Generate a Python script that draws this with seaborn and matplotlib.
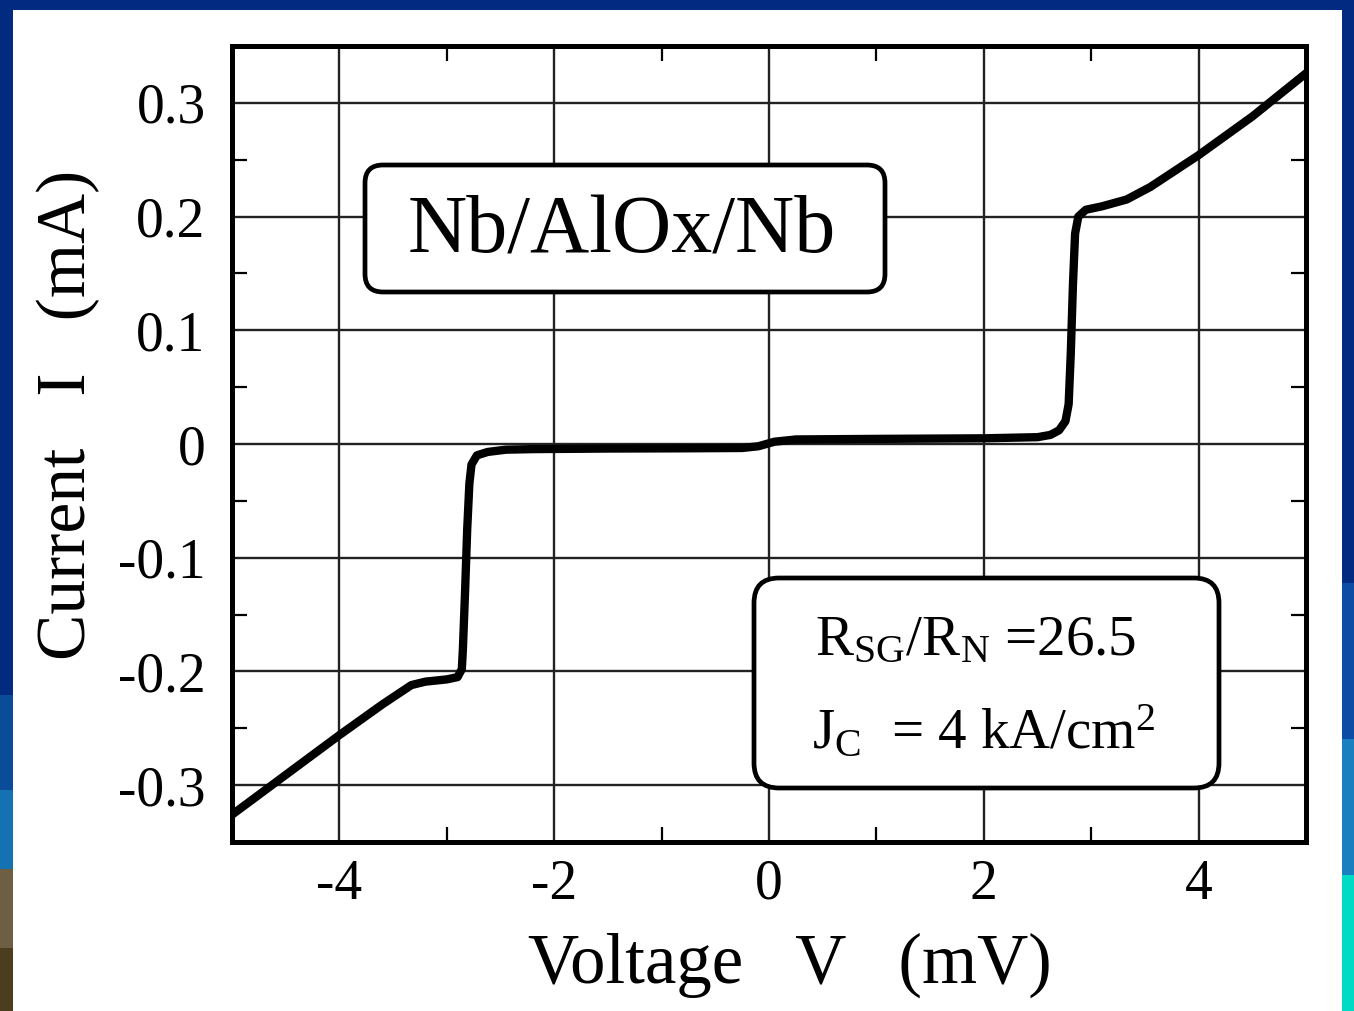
import numpy as np
import pandas as pd
import matplotlib
matplotlib.use("Agg")
import matplotlib.pyplot as plt
from matplotlib.patches import FancyBboxPatch, Rectangle
from matplotlib.ticker import FixedLocator, FixedFormatter
import seaborn as sns

# ---------------- data ----------------
voltage_mV = [-5.00, -4.60, -4.00, -3.60, -3.33, -3.20, -3.00, -2.90, -2.86, -2.85,
              -2.83, -2.81, -2.79, -2.77, -2.72, -2.62, -2.45, -2.20, -1.50, -0.80,
              -0.25, -0.10, 0.05, 0.25, 1.00, 2.00, 2.50, 2.62, 2.70, 2.76,
              2.79, 2.81, 2.83, 2.85, 2.88, 2.95, 3.10, 3.33, 3.55, 4.00,
              4.50, 5.00]
current_mA = [-0.326, -0.298, -0.256, -0.229, -0.212, -0.209, -0.207, -0.205, -0.198, -0.180,
              -0.130, -0.075, -0.035, -0.018, -0.010, -0.007, -0.005, -0.0045, -0.004, -0.0038,
              -0.0035, -0.002, 0.002, 0.004, 0.0045, 0.005, 0.006, 0.008, 0.012, 0.020,
              0.035, 0.080, 0.140, 0.185, 0.200, 0.206, 0.209, 0.215, 0.226, 0.254,
              0.288, 0.326]

xticks_major = [-4, -2, 0, 2, 4]
xtick_labels = ["-4", "-2", "0", "2", "4"]
xticks_minor = [-5, -3, -1, 1, 3, 5]
yticks_major = [-0.3, -0.2, -0.1, 0.0, 0.1, 0.2, 0.3]
ytick_labels = ["-0.3", "-0.2", "-0.1", "0", "0.1", "0.2", "0.3"]
yticks_minor = [-0.25, -0.15, -0.05, 0.05, 0.15, 0.25]

title_text = "Nb/AlOx/Nb"
info_line1 = r"R$_{\mathrm{SG}}$/R$_{\mathrm{N}}$ =26.5"
info_line2 = r"J$_{\mathrm{C}}$  = 4 kA/cm$^{2}$"
xlabel_text = "Voltage   V   (mV)"
ylabel_text = "Current   I   (mA)"

df = pd.DataFrame({"V": voltage_mV, "I": current_mA})

# ---------------- style ----------------
sns.set_theme(style="white")
plt.rcParams["font.family"] = ["Liberation Serif", "DejaVu Serif"]
plt.rcParams["mathtext.fontset"] = "custom"
plt.rcParams["mathtext.rm"] = "Liberation Serif"
plt.rcParams["mathtext.it"] = "Liberation Serif:italic"
plt.rcParams["axes.unicode_minus"] = False
plt.rcParams["text.color"] = "black"
plt.rcParams["axes.labelcolor"] = "black"
plt.rcParams["xtick.color"] = "black"
plt.rcParams["ytick.color"] = "black"

W, H = 1354, 1011
fig = plt.figure(figsize=(W / 100, H / 100), dpi=100)
fig.patch.set_facecolor("#022a80")

# white slide area (drawn beneath the axes)
fig.patches.append(Rectangle((13 / W, 0), (1342 - 13) / W, (H - 10) / H,
                             transform=fig.transFigure, facecolor="white",
                             edgecolor="none", zorder=-5))
# side strips (background of slide)
left_strip = fig.add_axes([0, 0, 13 / W, 1])
lg = np.array([[0.008, 0.165, 0.502]] * 44 + [[0.04, 0.30, 0.60]] * 6 +
              [[0.08, 0.45, 0.70]] * 5 + [[0.43, 0.37, 0.27]] * 5 + [[0.30, 0.24, 0.12]] * 4)
left_strip.imshow(lg[:, None, :], aspect="auto", extent=[0, 1, 0, 1])
left_strip.axis("off")
right_strip = fig.add_axes([1342 / W, 0, 12 / W, 1])
rg = np.array([[0.008, 0.165, 0.502]] * 30 + [[0.05, 0.30, 0.65]] * 8 +
               [[0.10, 0.50, 0.75]] * 7 + [[0.0, 0.86, 0.78]] * 7)
right_strip.imshow(rg[:, None, :], aspect="auto", extent=[0, 1, 0, 1])
right_strip.axis("off")

ax = fig.add_axes([232 / W, 1 - 842 / H, (1306 - 232) / W, (842 - 46) / H])
ax.set_facecolor("white")

sns.lineplot(data=df, x="V", y="I", sort=False, estimator=None, ax=ax,
             color="black", linewidth=6, solid_joinstyle="round", zorder=5)

ax.set_xlim(-5, 5)
ax.set_ylim(-0.35, 0.35)

ax.xaxis.set_major_locator(FixedLocator(xticks_major))
ax.xaxis.set_major_formatter(FixedFormatter(xtick_labels))
ax.xaxis.set_minor_locator(FixedLocator(xticks_minor))
ax.yaxis.set_major_locator(FixedLocator(yticks_major))
ax.yaxis.set_major_formatter(FixedFormatter(ytick_labels))
ax.yaxis.set_minor_locator(FixedLocator(yticks_minor))

ax.grid(True, which="major", color="#222222", linewidth=1.7)
ax.set_axisbelow(True)
for s in ax.spines.values():
    s.set_linewidth(3.6)
    s.set_color("black")
    s.set_visible(True)
    s.set_zorder(10)

ax.tick_params(axis="both", which="major", direction="in", length=0,
               labelsize=40, colors="black")
ax.tick_params(axis="both", which="minor", direction="in", length=11,
               width=1.6, top=True, bottom=True, left=True, right=True, color="black")
ax.tick_params(axis="x", which="major", pad=12)
ax.tick_params(axis="y", which="major", pad=19)

ax.set_xlabel(xlabel_text, fontsize=51, va="center", color="black")
ax.xaxis.set_label_coords((790 - 232) / 1074, (842 - 965) / 796)
ax.set_ylabel(ylabel_text, fontsize=50, va="center", color="black")
ax.yaxis.set_label_coords((68 - 232) / 1074, (842 - 415) / 796)

# annotation boxes (in inches on the figure)
box1 = FancyBboxPatch((3.65, (H - 292) / 100), 5.20, 1.27,
                      boxstyle="round,pad=0,rounding_size=0.18",
                      transform=fig.dpi_scale_trans, facecolor="white",
                      edgecolor="black", linewidth=3.4, zorder=20)
fig.patches.append(box1)
box2 = FancyBboxPatch((7.54, (H - 788) / 100), 4.65, 2.10,
                      boxstyle="round,pad=0,rounding_size=0.25",
                      transform=fig.dpi_scale_trans, facecolor="white",
                      edgecolor="black", linewidth=3.4, zorder=20)
fig.patches.append(box2)

fig.text(622 / W, 1 - 252 / H, title_text, fontsize=59, ha="center",
         va="baseline", zorder=30, color="black")
fig.text(815 / W, 1 - 655 / H, info_line1, fontsize=41, ha="left",
         va="baseline", zorder=30, color="black")
fig.text(812 / W, 1 - 748 / H, info_line2, fontsize=41, ha="left",
         va="baseline", zorder=30, color="black")

fig.savefig("out.png", dpi=100, facecolor=fig.get_facecolor())
